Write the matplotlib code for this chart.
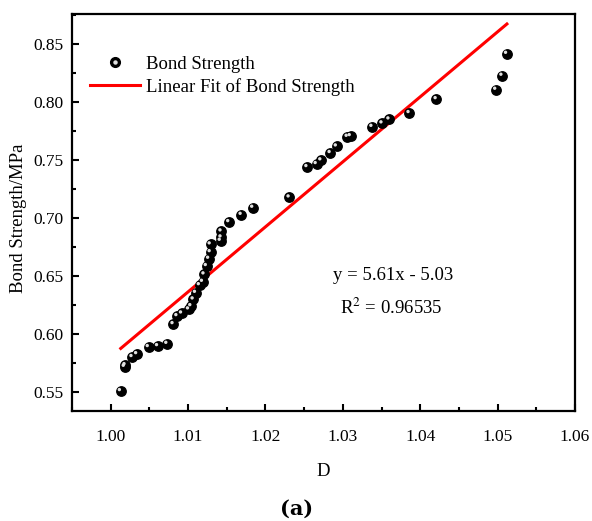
import matplotlib
matplotlib.use('Agg')

import numpy as np
import matplotlib.pyplot as plt
import matplotlib.transforms as mtransforms
from matplotlib.ticker import MultipleLocator, FormatStrFormatter
from matplotlib.legend_handler import HandlerTuple

# --- Data ---
d_values = [1.0013, 1.0018, 1.0019, 1.0028, 1.0034, 1.0049, 1.0061, 1.0073,
            1.0081, 1.0086, 1.0092, 1.0101, 1.0104, 1.0107, 1.0110, 1.0115,
            1.0119, 1.0121, 1.0124, 1.0127, 1.0129, 1.0129, 1.0142, 1.0143,
            1.0143, 1.0153, 1.0169, 1.0184, 1.0231, 1.0254, 1.0266, 1.0272,
            1.0284, 1.0292, 1.0306, 1.0310, 1.0338, 1.0351, 1.0360, 1.0386,
            1.0421, 1.0498, 1.0506, 1.0512]
bond_strength = [0.5506, 0.5716, 0.5730, 0.5800, 0.5825, 0.5886, 0.5894, 0.5914,
                 0.6084, 0.6153, 0.6176, 0.6211, 0.6239, 0.6297, 0.6354, 0.6420,
                 0.6449, 0.6513, 0.6585, 0.6648, 0.6705, 0.6772, 0.6803, 0.6832,
                 0.6884, 0.6964, 0.7027, 0.7088, 0.7177, 0.7439, 0.7465, 0.7497,
                 0.7560, 0.7617, 0.7700, 0.7706, 0.7786, 0.7816, 0.7850, 0.7905,
                 0.8025, 0.8106, 0.8227, 0.8416]

slope = 5.61
intercept = -5.03
r_squared = "0.96535"

x_ticks = [1.00, 1.01, 1.02, 1.03, 1.04, 1.05, 1.06]
y_ticks = [0.55, 0.60, 0.65, 0.70, 0.75, 0.80, 0.85]

# --- Plot setup ---
plt.rcParams['font.family'] = ['Liberation Serif', 'DejaVu Serif']
plt.rcParams['mathtext.fontset'] = 'stix'

fig = plt.figure(figsize=(5.92, 5.21), dpi=100)
ax = fig.add_axes([0.1216, 0.2111, 0.8497, 0.7615])

# fitted line over the data range
x_fit = np.array([min(d_values), max(d_values)])
y_fit = slope * x_fit + intercept
fit_line, = ax.plot(x_fit, y_fit, color='red', linewidth=2.2, zorder=2,
                    label='Linear Fit of Bond Strength')

# black "spheres" with a small highlight
ax.scatter(d_values, bond_strength, s=46, color='black', zorder=3)
hl_trans = mtransforms.offset_copy(ax.transData, fig=fig, x=-1.0, y=1.0, units='points')
ax.scatter(d_values, bond_strength, s=6, color='#e0e0e0', edgecolors='none',
           transform=hl_trans, zorder=4)

ax.set_xlim(0.995, 1.06)
ax.set_ylim(0.5333, 0.8756)
ax.set_xticks(x_ticks)
ax.set_yticks(y_ticks)
ax.xaxis.set_minor_locator(MultipleLocator(0.005))
ax.yaxis.set_minor_locator(MultipleLocator(0.025))
ax.xaxis.set_major_formatter(FormatStrFormatter('%.2f'))
ax.yaxis.set_major_formatter(FormatStrFormatter('%.2f'))

ax.tick_params(which='both', direction='in', top=False, right=False,
               labelsize=12.5, width=1.5)
ax.tick_params(which='major', length=5)
ax.tick_params(which='minor', length=3)
ax.tick_params(axis='x', which='major', pad=13)
ax.tick_params(axis='y', which='major', pad=6)
for sp in ax.spines.values():
    sp.set_linewidth(1.6)

ax.set_xlabel('D', fontsize=13.5, labelpad=13)
ax.set_ylabel('Bond Strength/MPa', fontsize=13.5)
ax.yaxis.set_label_coords(-0.089, 0.485)

# legend with sphere-like marker
m_black, = ax.plot([], [], 'o', color='black', markersize=7)
m_hl, = ax.plot([], [], 'o', color='#e0e0e0', markersize=2.2)
ax.legend([(m_black, m_hl), fit_line], ['Bond Strength', 'Linear Fit of Bond Strength'],
          handler_map={tuple: HandlerTuple(ndivide=1, pad=0)},
          loc='upper left', bbox_to_anchor=(0.035, 0.895), frameon=False,
          fontsize=13.5, handlelength=2.7, handletextpad=0.3, labelspacing=0.25,
          borderaxespad=0, borderpad=0)

# equation text
ax.text((333 - 72) / 503, (411 - 275) / 397, f'y = {slope:.2f}x - {-intercept:.2f}',
        transform=ax.transAxes, fontsize=13.5, ha='left', va='center')
ax.text((340 - 72) / 503, (411 - 308) / 397, 'R$^{2}$ = ' + r_squared,
        transform=ax.transAxes, fontsize=13.5, ha='left', va='center')

fig.text(297 / 592, 1 - 509 / 521, '(a)', fontsize=15, fontweight='bold',
         ha='center', va='center', family=['DejaVu Serif'])

fig.savefig('out.png', dpi=100)
